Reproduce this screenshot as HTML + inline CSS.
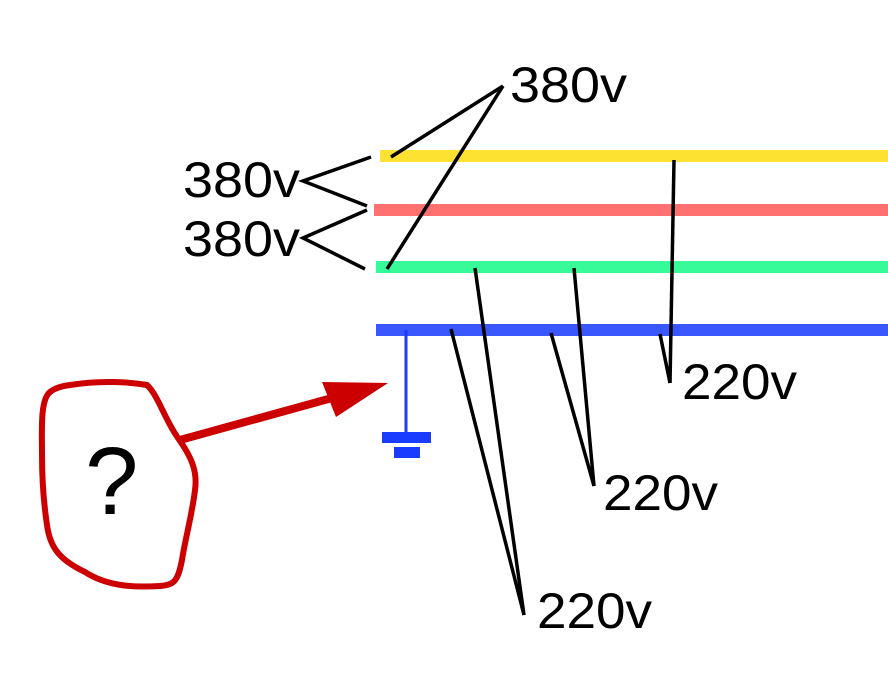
<!DOCTYPE html>
<html><head><style>
html,body{margin:0;padding:0;background:#fff;}
svg{display:block;}
text{font-family:"Liberation Sans",sans-serif;font-size:50px;fill:#000;}
</style></head><body>
<svg width="888" height="676" viewBox="0 0 888 676" xmlns="http://www.w3.org/2000/svg">
<rect x="380" y="150" width="508" height="12" fill="#fde232"/>
<rect x="374" y="204" width="514" height="12" fill="#ff7070"/>
<rect x="376" y="261" width="512" height="12" fill="#36fb98"/>
<rect x="376" y="324" width="512" height="12" fill="#3a56fd"/>
<g stroke="#000" stroke-width="3.5" fill="none">
<line x1="391" y1="157" x2="503" y2="86"/>
<line x1="387" y1="269" x2="503" y2="86"/>
<polyline points="371,157 303,181 367,206"/>
<polyline points="367,210 303,238 365,269"/>
<line x1="674" y1="160" x2="670" y2="383"/>
<line x1="660" y1="334" x2="670" y2="383"/>
<line x1="574" y1="268" x2="594" y2="486"/>
<line x1="551" y1="333" x2="594" y2="486"/>
<line x1="475" y1="268" x2="524" y2="615"/>
<line x1="451" y1="329" x2="524" y2="615"/>
</g>
<text x="183" y="197" textLength="117" lengthAdjust="spacingAndGlyphs">380v</text>
<text x="183" y="256" textLength="117" lengthAdjust="spacingAndGlyphs">380v</text>
<text x="510" y="102" textLength="117" lengthAdjust="spacingAndGlyphs">380v</text>
<text x="682" y="399" textLength="115" lengthAdjust="spacingAndGlyphs">220v</text>
<text x="603" y="510" textLength="115" lengthAdjust="spacingAndGlyphs">220v</text>
<text x="537" y="628" textLength="115" lengthAdjust="spacingAndGlyphs">220v</text>
<line x1="406" y1="330" x2="406" y2="435" stroke="#1a3cff" stroke-width="3"/>
<rect x="382" y="432" width="49" height="11" fill="#1a3cff"/>
<rect x="394" y="447" width="26" height="11" fill="#1a3cff"/>
<path d="M70,385 C100,380 130,382 147,385 C158,395 165,420 178,438 C190,455 198,470 195,490 C192,515 185,540 182,560 C178,580 175,585 160,586 C130,588 105,585 85,572 C60,560 50,548 47,525 C44,505 42,480 42,455 C42,430 40,400 50,392 C55,388 62,386 70,385 Z" fill="none" stroke="#cc0000" stroke-width="6"/>
<line x1="180" y1="440" x2="350" y2="393" stroke="#cc0000" stroke-width="8"/>
<polygon points="322,382 388,383 336,417" fill="#cc0000"/>
<text x="85" y="514" style="font-size:96px">?</text>
</svg>
</body></html>
